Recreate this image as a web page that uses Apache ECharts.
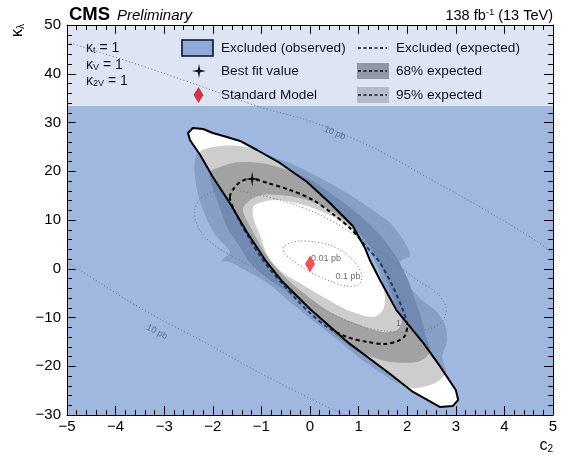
<!DOCTYPE html>
<html><head><meta charset="utf-8">
<script src="https://cdn.jsdelivr.net/npm/echarts@6/dist/echarts.min.js"></script>
<style>html,body{margin:0;padding:0;background:#fff}#c{width:574px;height:456px}</style>
</head><body><div id="c"></div>
<script>
// ---------------- data (c2, kappa_lambda) ----------------
const observedAllowed = [[-2.51,27.85],[-2.41,28.88],[-2.20,28.67],[-2.00,27.85],[-1.71,27.03],[-1.44,26.21],[-1.09,24.36],[-0.62,21.70],[-0.06,17.80],[0.41,13.49],[0.88,8.78],[1.13,4.27],[1.23,1.80],[1.44,-2.30],[1.79,-8.66],[2.33,-15.22],[2.67,-19.94],[2.82,-22.19],[3.00,-24.86],[3.05,-26.91],[2.94,-28.14],[2.67,-28.35],[2.12,-25.27],[1.65,-21.58],[0.82,-15.42],[0.00,-8.25],[-0.58,-2.50],[-0.91,1.60],[-1.30,7.55],[-1.65,13.49],[-2.00,18.83],[-2.26,23.34],[-2.47,26.42]];
const expectedMedian = [[-1.65,14.73],[-1.56,16.57],[-1.40,18.01],[-1.19,18.42],[-0.88,17.60],[-0.41,16.16],[0.06,14.11],[0.47,11.24],[0.82,8.37],[1.13,4.88],[1.44,1.19],[1.71,-3.73],[1.91,-8.45],[2.00,-11.53],[1.95,-13.78],[1.81,-14.81],[1.54,-15.42],[1.17,-15.01],[0.76,-13.99],[0.35,-11.94],[0.00,-9.07],[-0.27,-6.40],[-0.51,-3.73],[-0.78,-0.66],[-1.03,2.62],[-1.28,6.73],[-1.44,9.60],[-1.58,12.47]];
const expected95Outer = [[-2.35,23.13],[-2.16,24.57],[-1.85,25.19],[-1.44,25.19],[-1.09,24.36],[-0.76,22.93],[-0.37,21.49],[0.21,18.62],[0.76,15.55],[1.23,12.47],[1.65,9.39],[1.89,6.32],[2.06,2.83],[1.85,1.39],[1.95,-2.30],[2.26,-5.99],[2.61,-8.86],[2.78,-11.53],[2.82,-14.60],[2.72,-18.30],[2.80,-21.17],[2.67,-22.81],[2.47,-23.83],[2.12,-24.45],[1.75,-23.22],[1.50,-21.58],[1.13,-19.12],[0.62,-15.01],[0.10,-10.91],[-0.41,-6.81],[-0.88,-2.91],[-1.34,-0.25],[-1.65,1.39],[-1.83,1.60],[-1.65,3.44],[-1.95,6.93],[-2.16,11.03],[-2.30,15.13],[-2.37,19.24]];
const expected68Outer = [[-2.06,19.85],[-1.85,20.88],[-1.58,21.70],[-1.30,21.90],[-0.88,21.49],[-0.41,20.06],[-0.06,18.62],[0.21,16.98],[0.76,13.08],[1.30,8.37],[1.71,3.44],[2.00,-1.89],[2.16,-6.40],[2.30,-10.50],[2.39,-13.99],[2.47,-16.24],[2.41,-17.89],[2.20,-19.12],[1.65,-19.12],[1.23,-17.89],[0.82,-15.83],[0.41,-12.55],[-0.06,-7.84],[-0.47,-4.76],[-0.88,-1.89],[-1.23,1.19],[-1.44,4.47],[-1.71,8.57],[-1.91,14.11],[-2.02,17.19]];
const expected68Inner = [[-1.38,12.06],[-1.23,14.11],[-0.99,15.13],[-0.62,15.13],[-0.21,14.52],[0.21,13.08],[0.62,10.62],[0.99,7.55],[1.28,3.85],[1.48,0.16],[1.65,-4.35],[1.81,-8.45],[1.89,-10.91],[1.79,-12.55],[1.50,-12.96],[0.97,-11.32],[0.41,-8.86],[0.00,-5.99],[-0.41,-2.71],[-0.72,0.57],[-0.99,4.27],[-1.19,7.96]];
const expected95Inner = [[-1.17,12.67],[-0.99,13.70],[-0.72,14.11],[-0.37,13.70],[0.00,12.67],[0.41,11.03],[0.82,8.37],[1.13,4.88],[1.34,1.39],[1.48,-2.30],[1.54,-5.78],[1.50,-8.45],[1.30,-9.89],[0.82,-8.66],[0.27,-5.78],[-0.21,-2.91],[-0.58,-0.66],[-0.86,2.42],[-1.03,6.93],[-1.15,10.01]];
const xsec10Upper = [[-5.0,46.52],[-3.70,42.41],[-2.26,37.49],[-1.03,33.18],[0.00,30.31],[0.72,27.44],[1.44,24.16],[2.47,18.42],[3.50,12.67],[4.53,6.52],[5.0,3.24]];
const xsec10Lower = [[-5.0,1.39],[-4.32,-2.91],[-3.77,-6.40],[-3.09,-10.30],[-2.26,-14.60],[-1.03,-21.37],[0.06,-26.91],[0.72,-30.0]];
const xsec1 = [[-2.37,12.06],[-2.26,14.32],[-2.00,15.75],[-1.60,16.16],[-1.03,15.13],[-0.41,13.49],[0.21,11.03],[0.82,7.55],[1.44,3.44],[1.85,0.37],[2.26,-2.71],[2.61,-4.96],[2.80,-7.84],[2.74,-10.50],[2.51,-12.14],[2.06,-12.96],[1.54,-12.76],[1.03,-11.73],[0.41,-9.07],[-0.21,-5.99],[-0.76,-2.30],[-1.30,0.98],[-1.65,2.83],[-1.95,4.68],[-2.18,6.73],[-2.33,9.19]];
const xsec01 = [[-0.56,4.27],[-0.41,5.29],[-0.21,5.70],[0.10,5.50],[0.41,4.88],[0.72,3.24],[0.97,0.78],[1.07,-1.68],[0.99,-3.32],[0.72,-3.53],[0.41,-2.50],[0.00,-0.66],[-0.31,1.39],[-0.51,3.03]];
const xsecLabels = [['10 pb',0.51,27.85,-0.40],['10 pb',-3.15,-12.96,-0.48],['0.01 pb',0.33,2.0,0],['0.1 pb',0.78,-1.68,0],['1',1.82,-11.3,0]];
const bestFit = [-1.19, 18.42];
const standardModel = [0, 1];
const legendFloor = 33.4;
const xRange = [-5, 5];
const yRange = [-30, 50];
const xMajor = 1, yMajor = 10, minorSplits = 5;

// ---------------- styles ----------------
const FONT = '"Liberation Sans", Arial, Helvetica, sans-serif';
const OVER = 'rgba(65,113,193,0.5)';
const OVER_LEG = 'rgba(65,113,193,0.18)';
const G95 = '#cdcdcd', G68 = '#a2a2a2';
const minus = v => (v < 0 ? '\u2212' + Math.abs(v) : String(v));

function pts(api, arr) { return arr.map(p => api.coord(p)); }
function ringPath(api, rings) {
  let d = '';
  rings.forEach((ring, i) => {
    let p = pts(api, ring);
    let a = 0;
    for (let k = 0; k < p.length; k++) { const q = p[(k + 1) % p.length]; a += p[k][0] * q[1] - q[0] * p[k][1]; }
    if ((i === 0) !== (a > 0)) p = p.reverse();
    d += 'M ' + p.map(c => c[0].toFixed(2) + ' ' + c[1].toFixed(2)).join(' L ') + ' Z ';
  });
  return d;
}
function layer(z, build) {
  return { type: 'custom', xAxisIndex: 0, yAxisIndex: 0, z: z, clip: true, silent: true,
    data: [[0, 0]], renderItem: (params, api) => build(api) };
}

const chart = echarts.init(document.getElementById('c'), null, { renderer: 'canvas', width: 574, height: 456 });

const tickFont = { color: '#000', fontSize: 15, fontFamily: FONT };
function mkAxis(range, interval, pos, label) {
  return {
    type: 'value', z: 10, min: range[0], max: range[1], interval: interval, position: pos,
    axisLine: { show: true, onZero: false, lineStyle: { color: '#000', width: 1 } },
    axisTick: { show: true, inside: true, length: 9, lineStyle: { color: '#000', width: 1 } },
    minorTick: { show: true, splitNumber: minorSplits, length: 5, lineStyle: { color: '#000', width: 1 } },
    splitLine: { show: false },
    axisLabel: label ? Object.assign({ show: true, formatter: minus }, tickFont, label) : { show: false }
  };
}
const star = s => [[0,-s],[s*0.17,-s*0.17],[s,0],[s*0.17,s*0.17],[0,s],[-s*0.17,s*0.17],[-s,0],[-s*0.17,-s*0.17]];

chart.setOption({
  animation: false,
  backgroundColor: '#fff',
  grid: { left: 67, right: 21, top: 25, bottom: 41, show: false },
  xAxis: [
    mkAxis(xRange, xMajor, 'bottom', { margin: 4 }),
    mkAxis(xRange, xMajor, 'top', null)
  ],
  yAxis: [
    mkAxis(yRange, yMajor, 'left', { margin: 6 }),
    mkAxis(yRange, yMajor, 'right', null)
  ],
  series: [
    layer(1, api => ({ type: 'group', children: [
      { type: 'polygon', shape: { points: pts(api, expected95Outer), smooth: 0.3 }, style: { fill: G95 } },
      { type: 'polygon', shape: { points: pts(api, expected68Outer), smooth: 0.3 }, style: { fill: G68 } },
      { type: 'polygon', shape: { points: pts(api, expected68Inner), smooth: 0.3 }, style: { fill: G95 } },
      { type: 'polygon', shape: { points: pts(api, expected95Inner), smooth: 0.3 }, style: { fill: '#fff' } }
    ] })),
    layer(2, api => {
      const dot = { fill: 'none', stroke: '#878787', lineWidth: 1, lineDash: [1.2, 2.2] };
      const ch = [
        { type: 'polyline', shape: { points: pts(api, xsec10Upper), smooth: 0.3 }, style: dot },
        { type: 'polyline', shape: { points: pts(api, xsec10Lower), smooth: 0.3 }, style: dot },
        { type: 'polygon', shape: { points: pts(api, xsec1), smooth: 0.3 }, style: dot },
        { type: 'polygon', shape: { points: pts(api, xsec01), smooth: 0.3 }, style: dot },
        { type: 'polygon', shape: { points: pts(api, expectedMedian), smooth: 0.3 },
          style: { fill: 'none', stroke: '#000', lineWidth: 2, lineDash: [4, 3] } }
      ];
      xsecLabels.forEach(l => {
        const c = api.coord([l[1], l[2]]);
        ch.push({ type: 'text', x: c[0], y: c[1], rotation: l[3],
          style: { text: l[0], fill: '#6e6e6e', fontSize: 9, fontFamily: FONT, align: 'center', verticalAlign: 'middle' } });
      });
      return { type: 'group', children: ch };
    }),
    layer(3, api => {
      const rect = [[xRange[0], yRange[0]], [xRange[1], yRange[0]], [xRange[1], legendFloor], [xRange[0], legendFloor]];
      const top = [[xRange[0], legendFloor], [xRange[1], legendFloor], [xRange[1], yRange[1]], [xRange[0], yRange[1]]];
      return { type: 'group', children: [
        { type: 'path', shape: { pathData: ringPath(api, [rect, observedAllowed]) }, style: { fill: OVER } },
        { type: 'polygon', shape: { points: pts(api, top) }, style: { fill: OVER_LEG } }
      ] };
    }),
    layer(4, api => ({ type: 'polygon', shape: { points: pts(api, observedAllowed) },
      style: { fill: 'none', stroke: '#000', lineWidth: 2, lineJoin: 'round' } })),
    { type: 'scatter', z: 6, silent: true, data: [bestFit],
      symbol: 'path://M0,-10 L1.6,-1.6 L10,0 L1.6,1.6 L0,10 L-1.6,1.6 L-10,0 L-1.6,-1.6 Z',
      symbolSize: 15, itemStyle: { color: '#000' } },
    { type: 'scatter', z: 6, silent: true, data: [standardModel], symbol: 'diamond',
      symbolSize: [10, 17], itemStyle: { color: '#f0282a' } }
  ],
  graphic: [
    { type: 'text', x: 69, y: 15, style: { text: 'CMS', font: 'bold 18.5px ' + FONT, fill: '#000', verticalAlign: 'middle' } },
    { type: 'text', x: 117, y: 15.5, style: { text: 'Preliminary', font: 'italic 15px ' + FONT, fill: '#000', verticalAlign: 'middle' } },
    { type: 'text', x: 553, y: 15.5, style: { text: '{a|138 fb}{s|-1}{a| (13 TeV)}', align: 'right', verticalAlign: 'middle',
      rich: { a: { fontSize: 14.5, fontFamily: FONT, fill: '#000' }, s: { fontSize: 9.5, fontFamily: FONT, fill: '#000', padding: [0, 0, 7, 0] } } } },
    { type: 'text', x: 18, y: 24, rotation: Math.PI / 2, style: { text: '{k|\u03ba}{s|\u03bb}', align: 'right', verticalAlign: 'middle',
      rich: { k: { fontSize: 16, fontFamily: FONT, fill: '#000' }, s: { fontSize: 10, fontFamily: FONT, fill: '#000', padding: [7, 0, 0, 0] } } } },
    { type: 'text', x: 553, y: 446, style: { text: '{k|c}{s|2}', align: 'right', verticalAlign: 'middle',
      rich: { k: { fontSize: 16, fontFamily: FONT, fill: '#000' }, s: { fontSize: 10, fontFamily: FONT, fill: '#000', padding: [7, 0, 0, 0] } } } },
    { type: 'text', x: 86, y: 48, style: { text: '{k|\u03ba}{s|t}{k| = 1}', verticalAlign: 'middle',
      rich: { k: { fontSize: 14, fontFamily: FONT, fill: '#000' }, s: { fontSize: 9, fontFamily: FONT, fill: '#000', padding: [6, 0, 0, 0] } } } },
    { type: 'text', x: 86, y: 65, style: { text: '{k|\u03ba}{s|V}{k| = 1}', verticalAlign: 'middle',
      rich: { k: { fontSize: 14, fontFamily: FONT, fill: '#000' }, s: { fontSize: 9, fontFamily: FONT, fill: '#000', padding: [6, 0, 0, 0] } } } },
    { type: 'text', x: 86, y: 81, style: { text: '{k|\u03ba}{s|2V}{k| = 1}', verticalAlign: 'middle',
      rich: { k: { fontSize: 14, fontFamily: FONT, fill: '#000' }, s: { fontSize: 9, fontFamily: FONT, fill: '#000', padding: [6, 0, 0, 0] } } } },
    { type: 'rect', shape: { x: 182, y: 40, width: 31, height: 16 }, style: { fill: '#a0b8e0', stroke: '#000', lineWidth: 1.6 } },
    { type: 'text', x: 221, y: 48, style: { text: 'Excluded (observed)', font: '13.6px ' + FONT, fill: '#000', verticalAlign: 'middle' } },
    { type: 'polygon', shape: { points: star(7) }, x: 199, y: 71, style: { fill: '#000' } },
    { type: 'text', x: 221, y: 71, style: { text: 'Best fit value', font: '13.6px ' + FONT, fill: '#000', verticalAlign: 'middle' } },
    { type: 'polygon', shape: { points: [[198.5, 87], [203.5, 95], [198.5, 103], [193.5, 95]] }, style: { fill: '#f0282a' } },
    { type: 'text', x: 221, y: 95, style: { text: 'Standard Model', font: '13.6px ' + FONT, fill: '#000', verticalAlign: 'middle' } },
    { type: 'line', shape: { x1: 358, y1: 48, x2: 387, y2: 48 }, style: { stroke: '#000', lineWidth: 1.5, lineDash: [3, 2.5] } },
    { type: 'text', x: 396, y: 48, style: { text: 'Excluded (expected)', font: '13.6px ' + FONT, fill: '#000', verticalAlign: 'middle' } },
    { type: 'rect', shape: { x: 357, y: 63, width: 32, height: 16 }, style: { fill: G68 } },
    { type: 'line', shape: { x1: 358, y1: 71, x2: 387, y2: 71 }, style: { stroke: '#000', lineWidth: 1.5, lineDash: [3, 2.5] } },
    { type: 'text', x: 396, y: 71, style: { text: '68% expected', font: '13.6px ' + FONT, fill: '#000', verticalAlign: 'middle' } },
    { type: 'rect', shape: { x: 357, y: 87, width: 32, height: 16 }, style: { fill: G95 } },
    { type: 'line', shape: { x1: 358, y1: 95, x2: 387, y2: 95 }, style: { stroke: '#000', lineWidth: 1.5, lineDash: [3, 2.5] } },
    { type: 'text', x: 396, y: 95, style: { text: '95% expected', font: '13.6px ' + FONT, fill: '#000', verticalAlign: 'middle' } }
  ]
});
</script>
</body></html>
